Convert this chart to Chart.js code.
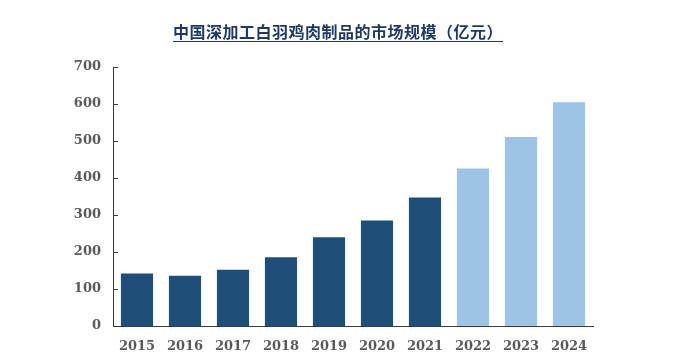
<!DOCTYPE html>
<html>
<head>
<meta charset="utf-8">
<script src="https://cdn.jsdelivr.net/npm/chart.js@4/dist/chart.umd.min.js"></script>
<style>
  html, body { margin: 0; padding: 0; background: #ffffff; }
  #wrap { position: relative; width: 676px; height: 364px; }
  #title {
    position: absolute; left: 0; top: 21px; width: 676px; text-align: center;
    font-family: "Noto Sans CJK SC", sans-serif; font-size: 16px; font-weight: 700;
    color: #1F3864; line-height: 20px; letter-spacing: 0.5px;
  }
  #title span { text-decoration: underline; text-underline-offset: 3px; text-decoration-thickness: 1px; }
  canvas { position: absolute; left: 0; top: 0; }
</style>
</head>
<body>
<div id="wrap">
  <canvas id="c" width="676" height="364"></canvas>
  <div id="title"><span>中国深加工白羽鸡肉制品的市场规模（亿元）</span></div>
</div>
<script>
const years = ['2015','2016','2017','2018','2019','2020','2021','2022','2023','2024'];
const marketSize = [142, 136, 152, 186, 240, 285, 347, 426, 511, 605];
const isForecast = [false, false, false, false, false, false, false, true, true, true];
const yTicks = [0, 100, 200, 300, 400, 500, 600, 700];

const DARK = '#1F4E79';
const LIGHT = '#9DC3E6';
const AXIS = '#3a3a3a';
const TICKFONT = { family: '"DejaVu Serif", serif', size: 13, weight: 'bold' };

const innerTicks = {
  id: 'innerTicks',
  afterDatasetsDraw(chart) {
    const y = chart.scales.y;
    const ctx = chart.ctx;
    const x0 = chart.chartArea.left;
    ctx.save();
    ctx.strokeStyle = AXIS;
    ctx.lineWidth = 1;
    yTicks.forEach(v => {
      if (v === 0) return;
      const py = Math.round(y.getPixelForValue(v)) + 0.5;
      ctx.beginPath();
      ctx.moveTo(x0, py);
      ctx.lineTo(x0 + 5, py);
      ctx.stroke();
    });
    ctx.restore();
  }
};

new Chart(document.getElementById('c'), {
  type: 'bar',
  data: {
    labels: years,
    datasets: [{
      data: marketSize,
      backgroundColor: ctx => isForecast[ctx.dataIndex] ? LIGHT : DARK,
      borderWidth: 0,
      barPercentage: 0.67,
      categoryPercentage: 1.0
    }]
  },
  options: {
    responsive: false,
    animation: false,
    layout: { padding: { top: 67, right: 83, bottom: 0, left: 0 } },
    plugins: { legend: { display: false }, title: { display: false }, tooltip: { enabled: false } },
    scales: {
      x: {
        grid: { display: false, drawTicks: false },
        border: { display: true, color: AXIS, width: 1 },
        ticks: { color: '#595959', font: TICKFONT, padding: 13, maxRotation: 0 },
        afterFit: s => { s.height = 38; }
      },
      y: {
        min: 0, max: 700,
        afterBuildTicks: s => { s.ticks = yTicks.map(v => ({ value: v })); },
        grid: { display: false, drawTicks: false },
        border: { display: true, color: AXIS, width: 1 },
        ticks: { color: '#595959', font: TICKFONT, padding: 12 },
        afterFit: s => { s.width = 113; }
      }
    }
  },
  plugins: [innerTicks]
});
</script>
</body>
</html>
